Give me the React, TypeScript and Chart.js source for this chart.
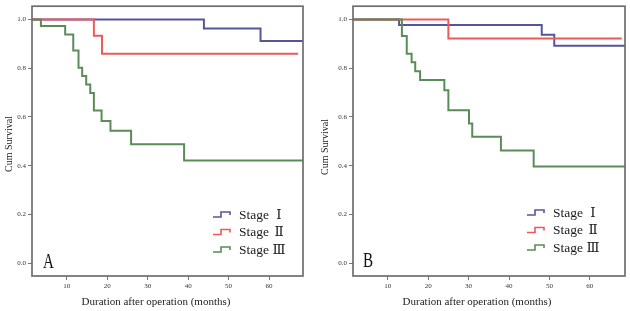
import React, { useEffect, useRef } from "react";
import { Chart, registerables } from "chart.js";

Chart.register(...registerables);

// ---------- Data (time in months, cumulative survival) ----------
const X_TICKS = [10, 20, 30, 40, 50, 60];
const Y_TICKS = [0, 0.2, 0.4, 0.6, 0.8, 1.0];
const SERIES_NAMES = ["Stage", "Stage", "Stage"];
const SERIES_NUMERALS = ["Ⅰ", "Ⅱ", "Ⅲ"];
const SERIES_COLORS = ["#55559c", "#ec5a5a", "#5a8c5a"];

// Panel A
const A_STAGE1_T = [0, 43.9, 57.9, 68.5];
const A_STAGE1_S = [1.0, 0.963, 0.912, 0.912];
const A_STAGE2_T = [0, 16.7, 18.7, 67.2];
const A_STAGE2_S = [1.0, 0.934, 0.86, 0.86];
const A_STAGE3_T = [0, 3.6, 9.6, 11.6, 12.9, 13.8, 14.8, 15.8, 16.7, 18.6, 20.8, 25.9, 39.0, 68.5];
const A_STAGE3_S = [1.0, 0.974, 0.939, 0.873, 0.802, 0.768, 0.733, 0.699, 0.627, 0.584, 0.544, 0.488, 0.421, 0.421];

// Panel B
const B_STAGE1_T = [0, 12.8, 48.1, 51.2, 68.7];
const B_STAGE1_S = [1.0, 0.978, 0.938, 0.893, 0.893];
const B_STAGE2_T = [0, 25.0, 67.9];
const B_STAGE2_S = [1.0, 0.922, 0.922];
const B_STAGE3_T = [0, 13.5, 14.7, 15.9, 16.8, 18.0, 24.0, 25.0, 30.1, 30.9, 38.0, 46.1, 68.7];
const B_STAGE3_S = [1.0, 0.933, 0.86, 0.825, 0.788, 0.752, 0.71, 0.628, 0.573, 0.519, 0.462, 0.397, 0.397];

const X_TITLE = "Duration after operation (months)";
const Y_TITLE = "Cum Survival";

const SERIF = "'Liberation Serif', 'DejaVu Serif', 'Times New Roman', serif";

type PanelCfg = {
  letter: string;
  times: number[][];
  surv: number[][];
  yAxisWidth: number;
  padRight: number;
  xMin: number;
  xMax: number;
  yTitleX: number;
  yTitleY: number;
  xTitleX: number;
  letterX: number;
  letterY: number;
  legendX: number;
  legendY: number;
};

const PANELS: PanelCfg[] = [
  {
    letter: "A",
    times: [A_STAGE1_T, A_STAGE2_T, A_STAGE3_T],
    surv: [A_STAGE1_S, A_STAGE2_S, A_STAGE3_S],
    yAxisWidth: 32,
    padRight: 12,
    xMin: 1.4,
    xMax: 68.4,
    yTitleX: 9,
    yTitleY: 144,
    xTitleX: 156,
    letterX: 43,
    letterY: 268,
    legendX: 213,
    legendY: 215,
  },
  {
    letter: "B",
    times: [B_STAGE1_T, B_STAGE2_T, B_STAGE3_T],
    surv: [B_STAGE1_S, B_STAGE2_S, B_STAGE3_S],
    yAxisWidth: 38,
    padRight: 5,
    xMin: 1.4,
    xMax: 68.7,
    yTitleX: 10,
    yTitleY: 147,
    xTitleX: 162,
    letterX: 48,
    letterY: 267,
    legendX: 212,
    legendY: 213,
  },
];

function Panel({ cfg }: { cfg: PanelCfg }) {
  const ref = useRef<HTMLCanvasElement | null>(null);

  useEffect(() => {
    if (!ref.current) return;
    const decor = {
      id: "decor",
      afterDatasetsDraw(chart: any) {
        const { ctx, chartArea } = chart;
        ctx.save();
        // frame
        ctx.strokeStyle = "#6e6e6e";
        ctx.lineWidth = 1.7;
        ctx.strokeRect(chartArea.left, chartArea.top, chartArea.right - chartArea.left, chartArea.bottom - chartArea.top);

        ctx.fillStyle = "#222";
        // y title
        ctx.save();
        ctx.translate(cfg.yTitleX, cfg.yTitleY);
        ctx.rotate(-Math.PI / 2);
        ctx.font = `10px ${SERIF}`;
        ctx.textAlign = "center";
        ctx.textBaseline = "middle";
        ctx.fillText(Y_TITLE, 0, 0);
        ctx.restore();

        // x title
        ctx.font = `11px ${SERIF}`;
        ctx.textAlign = "center";
        ctx.textBaseline = "middle";
        ctx.fillText(X_TITLE, cfg.xTitleX, 302);

        // panel letter
        ctx.save();
        ctx.translate(cfg.letterX, cfg.letterY);
        ctx.scale(0.72, 1);
        ctx.font = `21px ${SERIF}`;
        ctx.textAlign = "left";
        ctx.textBaseline = "alphabetic";
        ctx.fillStyle = "#111";
        ctx.fillText(cfg.letter, 0, 0);
        ctx.restore();

        // legend
        for (let i = 0; i < 3; i++) {
          const y = cfg.legendY + i * 17.5;
          const x0 = cfg.legendX;
          ctx.strokeStyle = SERIES_COLORS[i];
          ctx.lineWidth = 1.6;
          ctx.beginPath();
          ctx.moveTo(x0, y + 2);
          ctx.lineTo(x0 + 8, y + 2);
          ctx.lineTo(x0 + 8, y - 3);
          ctx.lineTo(x0 + 17, y - 3);
          ctx.lineTo(x0 + 17, y);
          ctx.stroke();
          ctx.fillStyle = "#1a1a1a";
          ctx.font = `13.5px ${SERIF}`;
          ctx.textAlign = "left";
          ctx.textBaseline = "middle";
          ctx.fillText(SERIES_NAMES[i], x0 + 26, y);
          ctx.textAlign = "center";
          ctx.fillText(SERIES_NUMERALS[i], x0 + 66, y);
        }
        ctx.restore();
      },
    };

    const datasets = [0, 1, 2].map((i) => ({
      label: `${SERIES_NAMES[i]} ${SERIES_NUMERALS[i]}`,
      data: cfg.times[i].map((t, k) => ({ x: t, y: cfg.surv[i][k] })),
      borderColor: SERIES_COLORS[i],
      borderWidth: 2,
      pointRadius: 0,
      stepped: "before" as const,
      fill: false,
      tension: 0,
      order: 2 - i,
    }));

    const chart = new Chart(ref.current, {
      type: "line",
      data: { datasets },
      options: {
        animation: false,
        responsive: false,
        maintainAspectRatio: false,
        devicePixelRatio: 1,
        layout: { padding: { top: 4, right: cfg.padRight, left: 0, bottom: 0 } },
        plugins: { legend: { display: false }, tooltip: { enabled: false } },
        scales: {
          x: {
            type: "linear",
            min: cfg.xMin,
            max: cfg.xMax,
            afterBuildTicks: (scale: any) => {
              scale.ticks = X_TICKS.map((v) => ({ value: v }));
            },
            afterFit: (scale: any) => {
              scale.height = 35;
            },
            grid: { display: true, drawOnChartArea: false, drawTicks: true, tickLength: 4, color: "#777", lineWidth: 1 },
            border: { display: false },
            ticks: {
              font: { family: SERIF, size: 7 },
              color: "#333",
              padding: 2,
              maxRotation: 0,
              autoSkip: false,
              callback: (v: any) => String(v),
            },
          },
          y: {
            type: "linear",
            min: -0.053,
            max: 1.055,
            afterBuildTicks: (scale: any) => {
              scale.ticks = Y_TICKS.map((v) => ({ value: v }));
            },
            afterFit: (scale: any) => {
              scale.width = cfg.yAxisWidth;
            },
            grid: { display: true, drawOnChartArea: false, drawTicks: true, tickLength: 4, color: "#777", lineWidth: 1 },
            border: { display: false },
            ticks: {
              font: { family: SERIF, size: 7 },
              color: "#333",
              padding: 2,
              autoSkip: false,
              callback: (v: any) => Number(v).toFixed(1),
            },
          },
        },
      },
      plugins: [decor],
    });
    return () => chart.destroy();
  }, [cfg]);

  return <canvas ref={ref} width={315} height={311} style={{ display: "block", width: 315, height: 311 }} />;
}

export default function App() {
  return (
    <div style={{ position: "absolute", left: 0, top: 0, width: 630, height: 311, background: "#fff", display: "flex" }}>
      <Panel cfg={PANELS[0]} />
      <Panel cfg={PANELS[1]} />
    </div>
  );
}
